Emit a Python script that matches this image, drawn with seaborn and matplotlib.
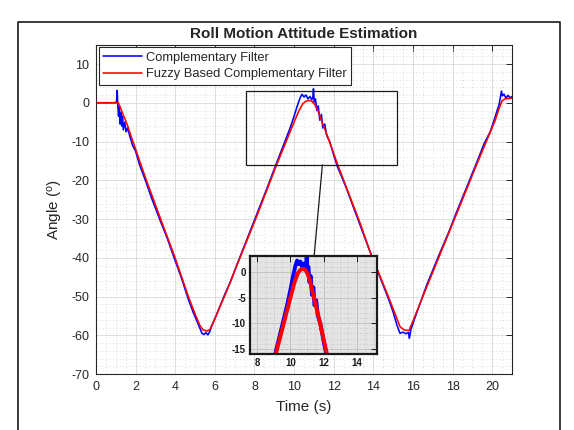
import matplotlib
matplotlib.use('Agg')
import matplotlib.pyplot as plt
import seaborn as sns
from matplotlib.patches import Rectangle, ConnectionPatch
from matplotlib.lines import Line2D
from matplotlib.ticker import MultipleLocator

# complementary filter (blue)
t_cf = [0, 1.0, 1.04, 1.07, 1.1, 1.14, 1.18, 1.22, 1.26, 1.3, 1.34, 1.38, 1.45, 1.52,
        1.6, 1.7, 1.85, 2.0, 2.2, 2.53, 2.8, 3.25, 3.6, 3.98, 4.3, 4.65, 4.9, 5.15,
        5.35, 5.45, 5.55, 5.65, 5.75, 5.85, 6.1, 6.5, 6.8, 7.1, 7.6, 8.1, 8.6, 9.12,
        9.5, 9.8, 10.0, 10.15, 10.3, 10.4, 10.5, 10.6, 10.7, 10.8, 10.9, 10.95, 10.98,
        11.02, 11.08, 11.15, 11.22, 11.3, 11.38, 11.45, 11.55, 11.65, 11.8, 12.0, 12.19,
        12.6, 13.0, 13.33, 13.84, 14.3, 14.76, 15.0, 15.2, 15.35, 15.5, 15.65, 15.78,
        15.82, 15.9, 16.1, 16.7, 17.3, 17.8, 18.22, 18.7, 19.23, 19.6, 19.9, 20.1,
        20.25, 20.35, 20.42, 20.47, 20.52, 20.6, 20.7, 20.8, 20.9, 21.0]
y_cf = [0, 0, 0.5, 3.2, -0.5, -3.5, -1.0, -5.5, -2.5, -6.0, -3.5, -7.0, -5.0, -7.5,
        -6.5, -8.5, -11.0, -12.5, -16.0, -20.5, -24.5, -30.5, -35.0, -40.5, -45.0, -50.5,
        -54.0, -57.0, -59.5, -59.8, -59.3, -59.9, -59.0, -57.5, -54.5, -49.5, -46.0,
        -42.0, -35.5, -29.0, -22.5, -15.5, -10.5, -6.5, -3.5, -1.0, 1.2, 2.2, 1.5, 2.0,
        1.0, 1.6, 0.8, 1.5, 3.6, 0.2, 1.0, -2.0, -0.8, -4.5, -3.0, -6.5, -5.5, -8.5,
        -10.0, -13.5, -16.5, -21.5, -27.0, -31.5, -38.5, -44.5, -50.5, -54.0, -57.5,
        -59.5, -59.2, -59.6, -59.3, -60.8, -58.5, -55.5, -47.0, -39.5, -33.5, -28.0,
        -22.0, -15.3, -10.5, -7.5, -4.5, -2.0, -0.5, 1.5, 3.0, 1.8, 2.2, 1.2, 1.9, 1.3, 1.6]

# fuzzy based complementary filter (red)
t_fz = [0, 1.12, 1.2, 1.3, 1.45, 1.6, 1.85, 2.53, 3.25, 3.98, 4.65, 5.0, 5.25, 5.4,
        5.6, 5.75, 5.9, 6.77, 7.07, 8.1, 9.12, 9.6, 10.0, 10.25, 10.45, 10.6, 10.75,
        10.9, 11.05, 11.2, 11.4, 11.7, 12.19, 13.33, 13.84, 14.76, 15.1, 15.35, 15.55,
        15.8, 15.95, 16.7, 18.22, 19.23, 20.15, 20.35, 20.5, 20.65, 21.0]
y_fz = [0, 0, -0.8, -2.2, -4.0, -6.0, -9.8, -19.8, -29.8, -39.8, -49.8, -54.5, -57.5,
        -58.6, -58.9, -58.5, -57.0, -46.5, -42.5, -29.5, -16.0, -10.0, -5.0, -2.0, -0.2,
        0.4, 0.6, 0.4, -0.5, -2.0, -4.8, -8.8, -15.8, -31.0, -38.5, -50.0, -54.5, -57.8,
        -58.6, -58.8, -57.0, -47.5, -28.5, -15.8, -4.6, -1.5, 0.5, 1.0, 1.2]

labels = ['Complementary Filter', 'Fuzzy Based Complementary Filter']
zoom_x = (7.56, 15.22)
zoom_y = (-16.0, 3.1)

sns.set_theme(style='white')
plt.rcParams['font.family'] = ['Liberation Sans', 'DejaVu Sans']
plt.rcParams['mathtext.default'] = 'regular'
plt.rcParams['axes.unicode_minus'] = False

dark = '#262626'


def draw_lines(a, lw, with_legend):
    sns.lineplot(x=t_cf, y=y_cf, ax=a, color='#0000ff', lw=lw, estimator=None, sort=False,
                 label=labels[0] if with_legend else None, legend=with_legend)
    sns.lineplot(x=t_fz, y=y_fz, ax=a, color='#ff0000', lw=lw, estimator=None, sort=False,
                 label=labels[1] if with_legend else None, legend=with_legend)


def style_grid(a, major_col, minor_col):
    a.grid(which='major', color=major_col, lw=0.7, ls='-')
    a.grid(which='minor', color=minor_col, lw=0.6, ls=(0, (1, 3)))
    a.set_axisbelow(True)
    a.tick_params(which='both', direction='in', top=True, right=True, colors=dark)
    a.tick_params(which='major', length=4, width=0.7)
    a.tick_params(which='minor', length=0)
    for s in a.spines.values():
        s.set_color(dark)


fig = plt.figure(figsize=(5.74, 4.30), dpi=100)
ax = fig.add_axes([0.1672, 0.1302, 0.7247, 0.766])
draw_lines(ax, 1.15, True)
ax.set_xlim(0, 21)
ax.set_ylim(-70, 15)
ax.xaxis.set_major_locator(MultipleLocator(2))
ax.xaxis.set_minor_locator(MultipleLocator(0.5))
ax.yaxis.set_major_locator(MultipleLocator(10))
ax.yaxis.set_minor_locator(MultipleLocator(2))
style_grid(ax, '#dedede', '#cfcfcf')
ax.tick_params(labelsize=9, pad=5)
for s in ax.spines.values():
    s.set_linewidth(0.8)
ax.set_title('Roll Motion Attitude Estimation', fontsize=11, fontweight='bold', pad=5)
ax.set_xlabel('Time (s)', fontsize=11, color=dark, labelpad=5)
ax.set_ylabel('Angle ($^{o}$)', fontsize=11, color=dark, labelpad=4)
leg = ax.legend(loc='upper left', fontsize=9.3, handlelength=3.0, handletextpad=0.3,
                labelspacing=0.35, borderpad=0.35, borderaxespad=0.2, fancybox=False,
                framealpha=1, edgecolor=dark)
leg.get_frame().set_linewidth(0.8)

ax.add_patch(Rectangle((zoom_x[0], zoom_y[0]), zoom_x[1] - zoom_x[0], zoom_y[1] - zoom_y[0],
                       fill=False, ec='k', lw=0.9, zorder=5))

axin = fig.add_axes([0.4355, 0.1767, 0.2213, 0.228])
axin.set_facecolor('#e4e4e4')
draw_lines(axin, 2.8, False)
axin.set_xlim(*zoom_x)
axin.set_ylim(*zoom_y)
axin.xaxis.set_major_locator(MultipleLocator(2))
axin.xaxis.set_minor_locator(MultipleLocator(0.5))
axin.yaxis.set_major_locator(MultipleLocator(5))
axin.yaxis.set_minor_locator(MultipleLocator(1))
style_grid(axin, '#c4c4c4', '#b8b8b8')
axin.tick_params(labelsize=7, pad=3, colors='k')
for lab in axin.get_xticklabels() + axin.get_yticklabels():
    lab.set_fontweight('bold')
for s in axin.spines.values():
    s.set_linewidth(1.6)
    s.set_color('k')

con = ConnectionPatch(xyA=(11.43, zoom_y[0]), coordsA=ax.transData,
                      xyB=(11.43, zoom_y[1]), coordsB=axin.transData, color='k', lw=0.9)
fig.add_artist(con)

fig.add_artist(Line2D([18 / 574, 18 / 574, 560 / 574, 560 / 574],
                      [0, 1 - 22 / 430, 1 - 22 / 430, 0],
                      transform=fig.transFigure, color='k', lw=1.2))

fig.savefig('out.png', dpi=100)
